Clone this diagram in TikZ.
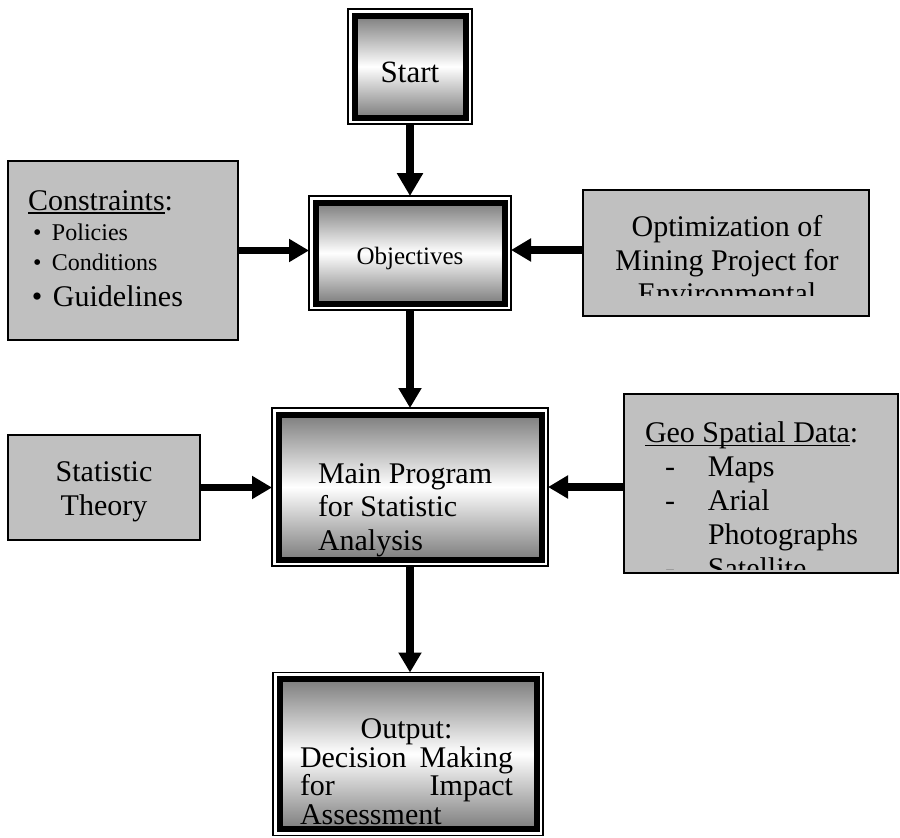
\documentclass[tikz,border=0pt]{standalone}
\usepackage{fontspec}
\setmainfont{Liberation Serif}
\usetikzlibrary{arrows.meta}
\definecolor{boxgray}{RGB}{192,192,192}
\definecolor{shadegray}{RGB}{125,125,125}
\newcommand\myul[1]{\setbox0\hbox{#1}\rlap{\rule[-3.5pt]{\wd0}{1.4pt}}\box0}
\newcommand\fsz[2]{\fontsize{#1}{#2}\selectfont}
\newcommand\framedbox[1]{\path[innerframe] ([shift={(6.5,6.5)}]#1.north west) rectangle ([shift={(-6.5,-6.5)}]#1.south east);}
\newcommand\innerclip[2]{\clip ([shift={(#2,#2)}]#1.north west) rectangle ([shift={(-#2,-#2)}]#1.south east);}
\begin{document}
\begin{tikzpicture}[x=1pt,y=-1pt,
 outerbox/.style={draw, line width=1.2pt, fill=white, inner sep=0pt, outer sep=0pt},
 graybox/.style={draw, line width=1.5pt, fill=boxgray, inner sep=0pt, outer sep=0pt},
 innerframe/.style={line width=6pt, draw=black, top color=shadegray, bottom color=shadegray, middle color=white},
 txt/.style={inner sep=0pt, outer sep=0pt, font=\fsz{30}{33.5}},
 flow/.style={line width=7.5pt, -{Triangle[width=22pt,length=20pt]}},
]
\useasboundingbox (0,0) rectangle (900,838);

% framed (shaded) boxes
\node[outerbox, minimum width=124pt, minimum height=115pt] (start) at (410,66.5) {};
\node[outerbox, minimum width=202pt, minimum height=114pt] (obj) at (410,253) {};
\node[outerbox, minimum width=276pt, minimum height=158pt] (main) at (410,487) {};
\node[outerbox, minimum width=270pt, minimum height=163pt] (out) at (408,754) {};
\framedbox{start}
\framedbox{obj}
\framedbox{main}
\framedbox{out}

% grey boxes
\node[graybox, minimum width=230pt, minimum height=179pt] (cons) at (123,250.5) {};
\node[graybox, minimum width=286pt, minimum height=126pt] (opt) at (726,253) {};
\node[graybox, minimum width=192pt, minimum height=105pt] (stat) at (104,487.5) {};
\node[graybox, minimum width=274pt, minimum height=179pt] (geo) at (761,483.5) {};

% texts (multi-line nodes: base = baseline of last line)
\node[txt, font=\fsz{31}{34}, anchor=base] (startT) at (410,82) {Start};
\node[txt, font=\fsz{25}{28}, anchor=base] (objT) at (410,264) {Objectives};
\begin{scope}
\innerclip{main}{9.5}
\node[txt, anchor=base west, align=left] (mainT) at (318,550) {Main Program\\for Statistic\\Analysis};
\end{scope}
\begin{scope}
\innerclip{out}{9.5}
\node[txt, font=\fsz{30}{28.5}, anchor=base west, align=left] (outT) at (300,824)
 {\makebox[213pt][c]{Output:}\\\makebox[213pt][s]{Decision Making}\\\makebox[213pt][s]{for Impact}\\\makebox[213pt][l]{Assessment}};
\end{scope}
\node[txt, anchor=base, align=center] (statT) at (104,515.2) {Statistic\\Theory};
\begin{scope}
\clip (opt.north west) rectangle ([yshift=21pt]opt.south east);
\node[txt, anchor=base, align=center] (optT) at (727,303.7) {Optimization of\\Mining Project for\\Environmental};
\end{scope}
\begin{scope}
\clip (geo.north west) rectangle ([yshift=4pt]geo.south east);
\node[txt, font=\fsz{30}{34}, anchor=base west, align=left] (geoT) at (645,578.7)
 {\myul{Geo Spatial Data}:\\\makebox[63pt][l]{\hspace*{20pt}-}Maps\\\makebox[63pt][l]{\hspace*{20pt}-}Arial\\\hspace*{63pt}Photographs\\\makebox[63pt][l]{\hspace*{20pt}-}Satellite};
\end{scope}
\node[txt, anchor=base west] (consT) at (28,210) {\myul{Constraints}:};
\node[txt, font=\fsz{24}{27}, anchor=base west] (pol) at (52,240) {\llap{\textbullet\hspace{10.5pt}}Policies};
\node[txt, font=\fsz{24}{27}, anchor=base west] (cond) at (52,270) {\llap{\textbullet\hspace{10.5pt}}Conditions};
\node[txt, anchor=base west] (guid) at (53,306.7) {\llap{\textbullet\hspace{10.5pt}}Guidelines};

% arrows
\draw[flow, -{Triangle[width=25pt,length=23pt]}] (start.south) -- (obj.north);
\draw[flow] (obj.south) -- (main.north);
\draw[flow] (main.south) -- (main.south |- out.north);
\draw[flow] (cons.east) -- (cons.east -| obj.west);
\draw[flow] ([yshift=3pt]opt.west) -- ([yshift=3pt]opt.west -| obj.east);
\draw[flow] (stat.east) -- (stat.east -| main.west);
\draw[flow] (main.east -| geo.west) -- (main.east);
\end{tikzpicture}
\end{document}
